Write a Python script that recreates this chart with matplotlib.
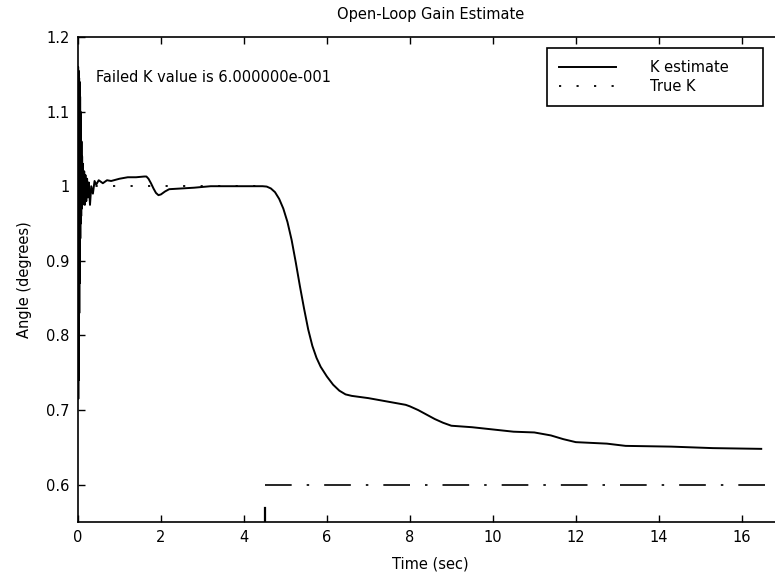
import matplotlib
matplotlib.use("Agg")
import matplotlib.pyplot as plt

# Estimated open-loop gain over time
t_est = [0.000, 0.004, 0.008, 0.012, 0.016, 0.020, 0.024, 0.028, 0.032, 0.036,
         0.040, 0.044, 0.048, 0.052, 0.056, 0.060, 0.066, 0.072, 0.078, 0.085,
         0.092, 0.100, 0.110, 0.120, 0.135, 0.150, 0.165, 0.180, 0.200, 0.220,
         0.240, 0.260, 0.290, 0.320, 0.360, 0.400, 0.440, 0.500, 0.600, 0.700,
         0.800, 1.000, 1.200, 1.400, 1.600, 1.650, 1.700, 1.760, 1.820, 1.880,
         1.940, 2.000, 2.100, 2.200, 2.500, 2.800, 3.200, 3.600, 4.000, 4.450,
         4.550, 4.650, 4.750, 4.850, 4.950, 5.050, 5.150, 5.250, 5.350, 5.450,
         5.550, 5.650, 5.750, 5.850, 6.000, 6.150, 6.300, 6.450, 6.600, 7.000,
         7.500, 7.900, 8.000, 8.200, 8.400, 8.600, 8.800, 9.000, 9.500, 10.000,
         10.500, 11.000, 11.400, 11.700, 12.000, 12.750, 13.200, 14.300, 15.300,
         16.470]
k_est = [1.000, 1.160, 0.715, 1.155, 0.740, 1.150, 0.780, 1.145, 0.830, 1.140,
         0.870, 1.130, 0.900, 1.120, 0.930, 1.100, 0.950, 1.080, 0.960, 1.060,
         0.970, 1.040, 0.975, 1.030, 0.980, 1.020, 0.975, 1.015, 0.980, 1.010,
         0.985, 1.005, 0.975, 1.000, 0.990, 1.007, 1.002, 1.008, 1.004, 1.008,
         1.007, 1.010, 1.012, 1.012, 1.013, 1.013, 1.010, 1.004, 0.997, 0.991,
         0.988, 0.989, 0.993, 0.996, 0.997, 0.998, 1.000, 1.000, 1.000, 1.000,
         0.9995, 0.997, 0.992, 0.983, 0.970, 0.952, 0.928, 0.898, 0.866, 0.836,
         0.808, 0.786, 0.770, 0.758, 0.745, 0.734, 0.726, 0.721, 0.719, 0.716,
         0.711, 0.707, 0.705, 0.700, 0.694, 0.688, 0.683, 0.679, 0.677, 0.674,
         0.671, 0.670, 0.666, 0.661, 0.657, 0.655, 0.652, 0.651, 0.649,
         0.648]

# True gain before the failure and failed gain afterwards
t_true = [0.0, 4.5]
k_true = [1.0, 1.0]
t_fail = [4.5, 17.0]
k_fail = [0.6, 0.6]
t_fail_mark = [4.5, 4.5]
k_fail_mark = [0.55, 0.569]

x_ticks = [0, 2, 4, 6, 8, 10, 12, 14, 16]
y_ticks = [0.6, 0.7, 0.8, 0.9, 1.0, 1.1, 1.2]
y_tick_labels = ["0.6", "0.7", "0.8", "0.9", "1", "1.1", "1.2"]

plt.rcParams['font.family'] = ['DejaVu Sans']
plt.rcParams['font.size'] = 10.5

fig = plt.figure(figsize=(7.75, 5.75), dpi=100)
ax = fig.add_axes([0.1006, 0.0922, 0.910, 0.8435])

ax.plot(t_est, k_est, color='black', lw=1.4, label='K estimate')
ax.plot(t_true, k_true, color='black', lw=1.3, dashes=(1.2, 8.5),
        label='True K')
ax.plot(t_fail, k_fail, color='black', lw=1.2, dashes=(16, 9, 1.5, 9))
ax.plot(t_fail_mark, k_fail_mark, color='black', lw=1.6)

ax.set_xlim(0, 17)
ax.set_ylim(0.55, 1.2)
ax.set_xticks(x_ticks)
ax.set_xticklabels([str(v) for v in x_ticks])
ax.set_yticks(y_ticks)
ax.set_yticklabels(y_tick_labels)
ax.tick_params(direction='in', length=5, width=1.0, top=True, right=True,
               pad=6, labelsize=10.5)
for s in ax.spines.values():
    s.set_linewidth(1.2)

ax.set_title('Open-Loop Gain Estimate', fontsize=10.5, pad=13)
ax.set_xlabel('Time (sec)', fontsize=10.5, labelpad=8)
ax.set_ylabel('Angle (degrees)', fontsize=10.5, labelpad=10)

ax.text(0.43, 1.146, 'Failed K value is 6.000000e-001', fontsize=10.5,
        va='center', ha='left')

leg = fig.legend(handles=ax.get_lines()[:2],
                 loc='upper left',
                 bbox_to_anchor=(547 / 775, 1 - 104 / 575, 216 / 775, 56 / 575),
                 bbox_transform=fig.transFigure, mode='expand',
                 borderaxespad=0, fancybox=False, framealpha=1,
                 edgecolor='black', handlelength=3.9, handletextpad=2.3,
                 labelspacing=0.25, borderpad=0.85, fontsize=10.5)
leg.get_frame().set_linewidth(1.2)

fig.savefig('out.png', dpi=100)
